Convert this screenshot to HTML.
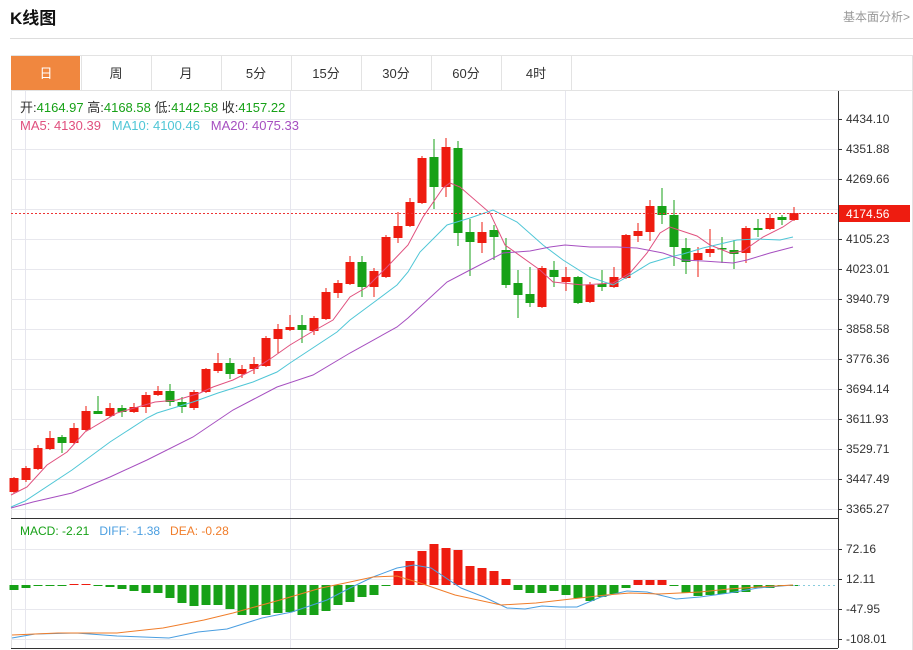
<!DOCTYPE html>
<html><head><meta charset="utf-8"><style>
body{margin:0;background:#fff;width:913px;height:650px;overflow:hidden;font-family:"Liberation Sans","Noto Sans CJK SC",sans-serif;}
</style></head><body>
<svg id="s" width="913" height="650" xmlns="http://www.w3.org/2000/svg" style="position:absolute;left:0;top:0">
<text x="10" y="24" font-size="17" font-weight="bold" fill="#111" font-family="Liberation Sans, Noto Sans CJK SC, sans-serif">K线图</text>
<text x="843" y="21" font-size="12" fill="#999" font-family="Liberation Sans, Noto Sans CJK SC, sans-serif">基本面分析&gt;</text>
<line x1="10" y1="38.5" x2="913" y2="38.5" stroke="#ddd"/>
</svg>
<script>
var s=document.getElementById('s');var h='';
function L(x1,y1,x2,y2,c,w,d){h+='<line x1="'+x1+'" y1="'+y1+'" x2="'+x2+'" y2="'+y2+'" stroke="'+c+'" stroke-width="'+(w||1)+'"'+(d?' stroke-dasharray="'+d+'"':'')+'/>';}
function R(x,y,w,hh,c){h+='<rect x="'+x+'" y="'+y+'" width="'+w+'" height="'+hh+'" fill="'+c+'"/>';}
function T(x,y,t,c,sz,a){h+='<text x="'+x+'" y="'+y+'" fill="'+c+'" font-size="'+(sz||12)+'" font-family="Liberation Sans, Noto Sans CJK SC, sans-serif"'+(a?' text-anchor="'+a+'"':'')+'>'+t+'</text>';}
function P(pts,c,w){h+='<polyline fill="none" stroke="'+c+'" stroke-width="'+(w||1)+'" points="'+pts.map(function(p){return p.join(',')}).join(' ')+'"/>';}
// tabs
L(11,55.5,913,55.5,'#e3e3e3');L(11,90.5,913,90.5,'#e3e3e3');L(912.5,55,912.5,650,'#e3e3e3');L(11.5,55,11.5,648,'#e3e3e3');
R(11,56,69,34,'#f0873f');
var tabs=['日','周','月','5分','15分','30分','60分','4时'];
for(var i=0;i<8;i++){var x=11+70*i;if(i>0)L(x+0.5,56,x+0.5,90,'#e3e3e3');T(x+35,78,tabs[i],i==0?'#fff':'#333',13,'middle');}
L(571.5,56,571.5,90,'#e3e3e3');
// grid main
var ticks=['4434.10','4351.88','4269.66','4187.45','4105.23','4023.01','3940.79','3858.58','3776.36','3694.14','3611.93','3529.71','3447.49','3365.27'];
for(var i=0;i<14;i++){var y=119+30*i;if(i!=3){L(11,y+0.5,838,y+0.5,'#e8e8ee');L(838,y+0.5,842,y+0.5,'#333');T(846,y+4,ticks[i],'#333',12);}else{L(11,y+0.5,838,y+0.5,'#e8e8ee');}}
[25.5,290.5,565.5].forEach(function(x){L(x,91,x,648,'#e6e6ee');});
// candles
var C=[[478,492,477,493,1],[468,480,466,482,1],[448,469,445,470,1],[438,449,431,450,1],[437,443,435,453,0],[428,443,423,444,1],[411,430,406,431,1],[411,414,396,414,0],[408,416,403,417,1],[408,412,405,417,0],[407,412,403,413,1],[395,407,392,413,1],[391,395,386,396,1],[391,402,384,406,0],[402,407,397,413,0],[392,408,390,410,1],[369,392,368,393,1],[363,371,353,373,1],[363,374,358,379,0],[369,374,365,378,1],[364,369,357,374,1],[338,366,336,367,1],[329,339,324,353,1],[327,330,315,331,1],[325,330,315,343,0],[318,331,316,335,1],[292,319,288,320,1],[283,293,280,298,1],[262,284,256,285,1],[262,287,256,297,0],[271,287,268,297,1],[237,277,235,278,1],[226,238,212,243,1],[202,226,198,227,1],[158,203,156,204,1],[157,187,139,209,0],[147,187,138,197,1],[148,233,141,246,0],[232,242,219,276,0],[232,243,222,253,1],[230,237,225,260,0],[250,285,238,288,0],[283,295,270,318,0],[294,303,267,307,0],[268,307,266,308,1],[270,277,261,287,0],[277,282,267,291,1],[277,303,276,304,0],[285,302,282,303,1],[284,287,270,291,0],[277,287,267,288,1],[235,278,234,279,1],[231,236,223,242,1],[206,232,200,241,1],[206,215,188,224,0],[215,247,200,266,0],[248,262,238,274,0],[253,260,247,277,1],[249,253,229,257,1],[248,249,237,263,0],[250,254,240,269,0],[228,253,226,263,1],[228,230,219,237,0],[218,229,214,230,1],[217,220,215,225,0],[213,220,207,221,1]];
C.forEach(function(c,i){var x=14+12*i;var col=c[4]?'#ee1c10':'#17a117';L(x,c[2],x,c[3],col);R(x-4.5,c[0],9,Math.max(1.5,c[1]-c[0]),col);});
// MAs
P([[11,495],[27,487],[47,465],[67,452],[85,432],[117,413],[155,402],[177,400],[200,393],[213,387],[233,380],[253,370],[273,357],[290,345],[310,333],[333,320],[350,297],[367,287],[387,267],[408,245],[423,217],[443,188],[450,183],[460,187],[490,213],[505,245],[540,270],[553,282],[583,285],[613,283],[630,273],[647,253],[660,233],[670,227],[697,236],[710,245],[730,253],[743,251],[763,237],[783,227],[793,220]],'#e0507e');
P([[11,507],[25,501],[72,470],[110,442],[147,418],[157,413],[193,402],[218,393],[253,382],[277,372],[290,363],[337,332],[350,320],[377,300],[397,285],[408,272],[420,252],[447,225],[470,218],[493,210],[517,222],[543,245],[563,260],[590,277],[613,285],[627,277],[650,263],[670,257],[683,254],[703,248],[737,240],[757,239],[780,240],[793,237]],'#4fc6d6');
P([[11,508],[33,502],[72,493],[110,477],[147,460],[193,437],[233,410],[277,387],[313,375],[350,353],[397,327],[408,318],[447,282],[470,270],[503,253],[530,251],[550,247],[565,245],[590,247],[617,247],[637,248],[663,253],[683,260],[703,261],[733,263],[747,260],[770,253],[793,247]],'#a64fc0');
// current price
L(11,213.5,838,213.5,'#e33','1','2,2');R(838,205,72,17,'#ee1c10');T(846,218,'4174.56','#fff',12);
L(838.5,91,838.5,648,'#333');
// header text
h+='<text x="20" y="112" font-size="13" font-family="Liberation Sans, Noto Sans CJK SC, sans-serif"><tspan fill="#333">开:</tspan><tspan fill="#17a117">4164.97</tspan><tspan fill="#333">  高:</tspan><tspan fill="#17a117">4168.58</tspan><tspan fill="#333">  低:</tspan><tspan fill="#17a117">4142.58</tspan><tspan fill="#333">  收:</tspan><tspan fill="#17a117">4157.22</tspan></text>';
h+='<text x="20" y="130" font-size="13" font-family="Liberation Sans, sans-serif" xml:space="preserve"><tspan fill="#e0507e">MA5: 4130.39   </tspan><tspan fill="#4fc6d6">MA10: 4100.46   </tspan><tspan fill="#a64fc0">MA20: 4075.33</tspan></text>';
// MACD panel
L(11,518.5,838,518.5,'#333');L(11,648.5,838,648.5,'#333');
var mt=['72.16','12.11','-47.95','-108.01'];
for(var i=0;i<4;i++){var y=549+30*i;L(11,y+0.5,838,y+0.5,'#e8e8ee');L(838,y+0.5,842,y+0.5,'#333');T(846,y+4,mt[i],'#333',12);}
var H=[-5,-3,-1,-1,-1,1,1,-1,-2,-4,-6,-8,-8,-13,-18,-21,-20,-20,-24,-30,-30,-30,-28,-27,-30,-30,-26,-20,-17,-12,-10,-1,14,24,34,41,37,35,19,17,14,6,-5,-8,-8,-6,-10,-13,-16,-12,-9,-3,5,5,5,-1,-8,-11,-10,-9,-8,-7,-3,-3,-1,-1];
H.forEach(function(v,i){var x=14+12*i-4.5;if(v>0)R(x,585-v,9,v,'#ee1c10');else R(x,585,9,-v,'#17a117');});
L(793,585.5,838,585.5,'#8cd','1','2,3');
P([[12,638],[35,634],[76,633],[117,636],[169,638],[198,632],[227,629],[262,618],[292,612],[327,600],[350,588],[373,577],[397,568],[414,565],[431,568],[461,588],[484,597],[507,608],[525,609],[542,606],[560,607],[577,607],[601,597],[627,591],[647,592],[676,599],[700,597],[729,593],[758,588],[793,585]],'#4a9ee0');
P([[12,635],[58,633],[117,633],[163,628],[204,620],[233,613],[280,600],[321,588],[350,582],[373,577],[397,576],[420,583],[455,595],[501,605],[536,603],[571,599],[606,595],[630,593],[659,594],[700,592],[729,589],[758,587],[793,585]],'#f07d2a');
h+='<text x="20" y="535" font-size="12" font-family="Liberation Sans, sans-serif" xml:space="preserve"><tspan fill="#17a117">MACD: -2.21   </tspan><tspan fill="#4a9ee0">DIFF: -1.38   </tspan><tspan fill="#f07d2a">DEA: -0.28</tspan></text>';
s.insertAdjacentHTML('beforeend',h);
</script>
</body></html>
